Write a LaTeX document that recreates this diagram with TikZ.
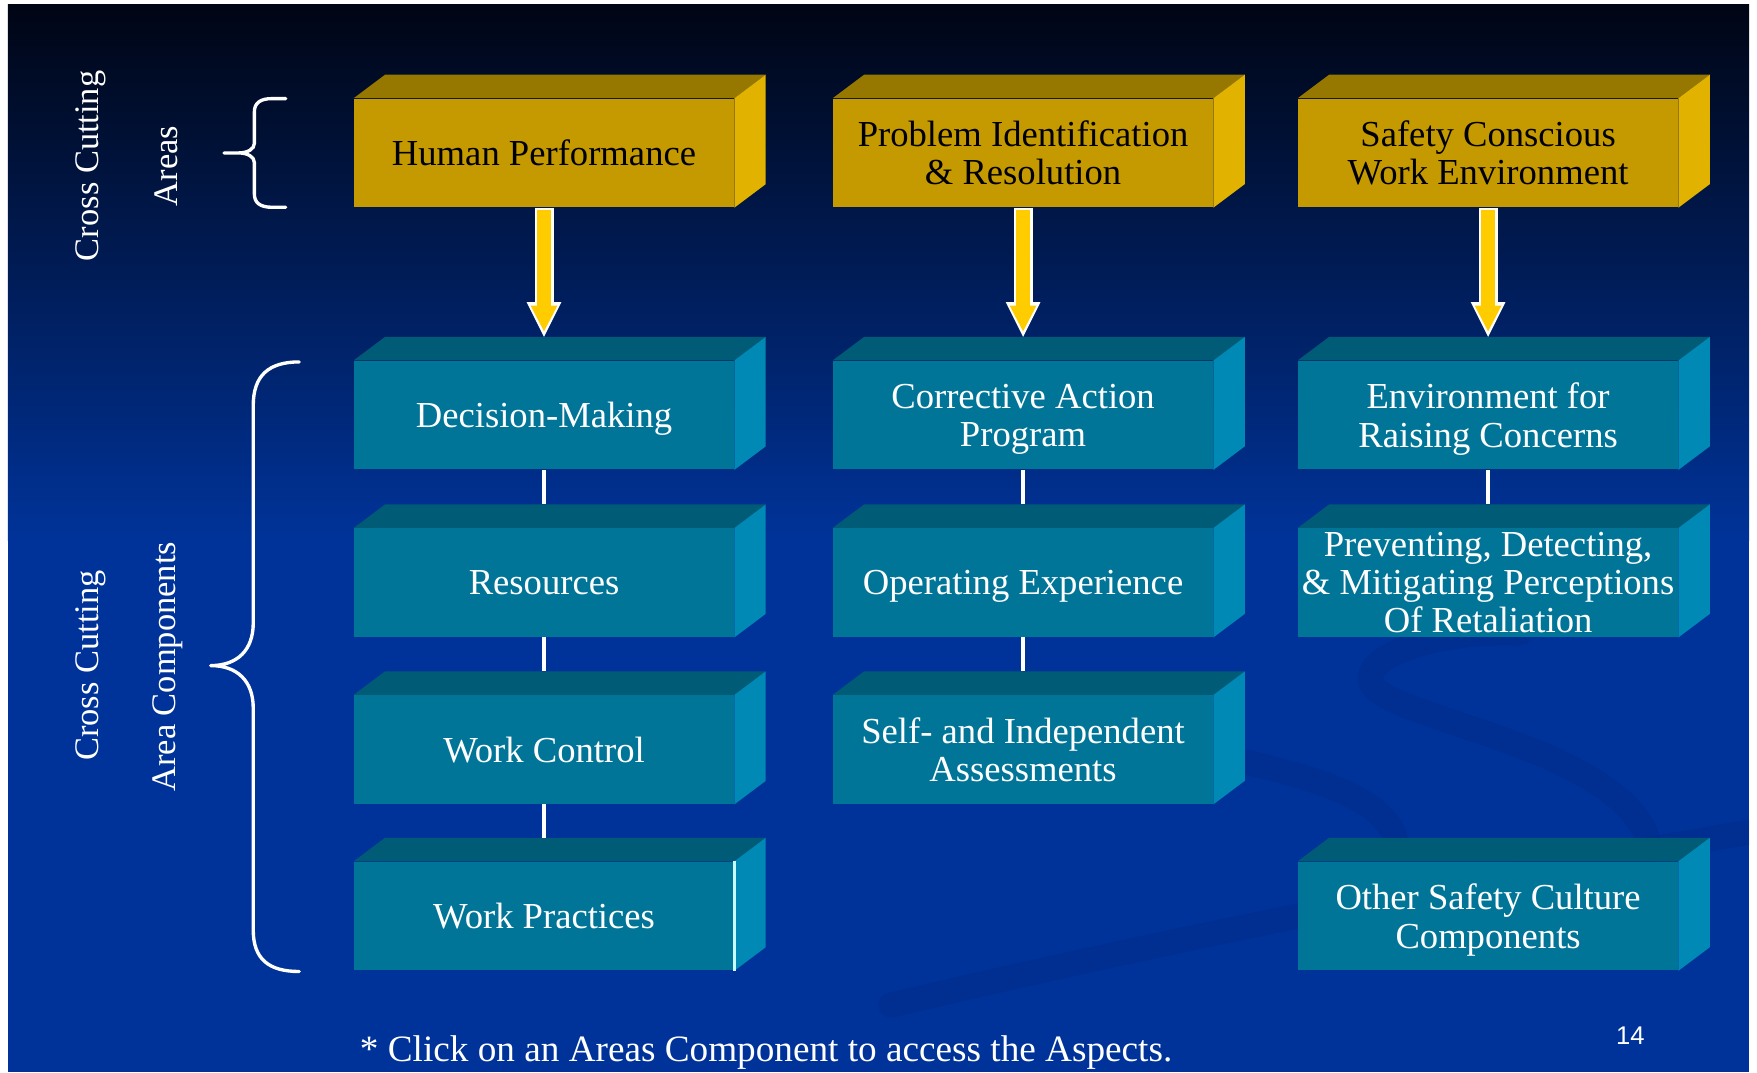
\documentclass[tikz,border=0pt]{standalone}
\usepackage{fontspec}
\setmainfont{Liberation Serif}
\newfontfamily\pagenumfont{Liberation Sans}
\usetikzlibrary{arrows.meta}

\definecolor{slidenavy}{RGB}{0, 5, 20}
\definecolor{slidemid}{RGB}{0, 36, 112}
\definecolor{slideblue}{RGB}{0, 51, 153}
\definecolor{swooshblue}{RGB}{0, 38, 128}
\definecolor{goldfront}{RGB}{196, 154, 0}
\definecolor{goldtop}{RGB}{150, 119, 0}
\definecolor{goldside}{RGB}{226, 178, 0}
\definecolor{tealfront}{RGB}{0, 117, 152}
\definecolor{tealtop}{RGB}{0, 92, 118}
\definecolor{tealside}{RGB}{0, 137, 180}
\definecolor{arrowyellow}{RGB}{255, 204, 0}
\definecolor{pickline}{RGB}{200, 250, 255}

\newcommand\blockfont{\fontsize{18.6}{19.4}\selectfont}
\newcommand\sidefont{\fontsize{17.5}{20}\selectfont}
\newcommand\notefont{\fontsize{18.9}{22}\selectfont}

\tikzset{
    block/.style={rectangle, minimum width=6.78cm, minimum height=1.94cm,
        inner sep=0pt, align=center, text depth=0pt, font=\blockfont},
    areablock/.style={block, fill=goldfront, text=black},
    compblock/.style={block, fill=tealfront, text=white},
    link/.style={white, line width=1.7pt},
    bracket/.style={white, line width=1.7pt, line cap=round},
    sidelabel/.style={white, rotate=90, font=\sidefont},
    arrowrim/.style={white, line width=0.34cm,
        -{Triangle[width=0.62cm, length=0.62cm, line width=0pt]}},
    arrowcore/.style={arrowyellow, line width=0.24cm, shorten >=0.1cm, shorten <=0.05cm,
        -{Triangle[width=0.48cm, length=0.46cm, line width=0pt]}},
    swoosh/.style={swooshblue, line width=0.45cm, opacity=0.3, line cap=round}
}

\begin{document}
\begin{tikzpicture}
    \useasboundingbox (0,0) rectangle (31.36,19.14);

    % slide background
    \fill[white] (0,0) rectangle (31.36,19.14);
    \shade[top color=slidenavy, middle color=slidemid, bottom color=slideblue]
        (0.14,9.5) rectangle (31.22,19.06);
    \fill[slideblue] (0.14,0) rectangle (31.22,9.5);
    \begin{scope}
        \clip (0.14,0) rectangle (31.22,19.06);
        \draw[swoosh] (27.12,7.84) .. controls (25.6,7.9) and (24.2,7.4) .. (24.5,6.9)
            .. controls (24.9,6.3) and (28.8,5.8) .. (29.4,4.2);
        \draw[swoosh] (22.0,5.6) .. controls (23.2,5.3) and (24.6,5.0) .. (24.9,4.2);
        \draw[swoosh] (15.9,1.2) .. controls (21,2.4) and (26,3.4) .. (31.3,4.3);
    \end{scope}

    % Cross cutting areas
    \node[areablock] (hp)   at (9.71,16.41)  {Human Performance};
    \node[areablock] (pir)  at (18.26,16.41) {Problem Identification\\\& Resolution};
    \node[areablock] (scwe) at (26.56,16.41) {Safety Conscious\\Work Environment};

    % Area components
    \node[compblock] (dm)  at (9.71,11.73)  {Decision-Making};
    \node[compblock] (res) at (9.71,8.74)   {Resources};
    \node[compblock] (wc)  at (9.71,5.76)   {Work Control};
    \node[compblock] (wp)  at (9.71,2.79)   {Work Practices};
    \node[compblock] (cap) at (18.26,11.73) {Corrective Action\\Program};
    \node[compblock] (oe)  at (18.26,8.74)  {Operating Experience};
    \node[compblock] (sia) at (18.26,5.76)  {Self- and Independent\\Assessments};
    \node[compblock] (erc) at (26.56,11.73) {Environment for\\Raising Concerns};
    \node[compblock] (pdm) at (26.56,8.74)  {Preventing, Detecting,\\\& Mitigating Perceptions\\Of Retaliation};
    \node[compblock] (osc) at (26.56,2.79)  {Other Safety Culture\\Components};

    % top and side faces of the blocks
    \foreach \b in {hp,pir,scwe}{
        \fill[goldtop] (\b.north west) -- ++(0.56,0.42) -- ([shift={(0.56,0.42)}]\b.north east) -- (\b.north east) -- cycle;
        \fill[goldside] (\b.north east) -- ++(0.56,0.42) -- ([shift={(0.56,0.42)}]\b.south east) -- (\b.south east) -- cycle;
    }
    \foreach \b in {dm,res,wc,wp,cap,oe,sia,erc,pdm,osc}{
        \fill[tealtop] (\b.north west) -- ++(0.56,0.42) -- ([shift={(0.56,0.42)}]\b.north east) -- (\b.north east) -- cycle;
        \fill[tealside] (\b.north east) -- ++(0.56,0.42) -- ([shift={(0.56,0.42)}]\b.south east) -- (\b.south east) -- cycle;
    }
    \draw[pickline, line width=1.2pt] (wp.north east) -- (wp.south east);

    % links inside each column
    \draw[link] (dm.south)  -- ([yshift=0.42cm]res.north);
    \draw[link] (res.south) -- ([yshift=0.42cm]wc.north);
    \draw[link] (wc.south)  -- ([yshift=0.42cm]wp.north);
    \draw[link] (cap.south) -- ([yshift=0.42cm]oe.north);
    \draw[link] (oe.south)  -- ([yshift=0.42cm]sia.north);
    \draw[link] (erc.south) -- ([yshift=0.42cm]pdm.north);

    % arrows from areas to components
    \foreach \a/\c in {hp/dm, pir/cap, scwe/erc}{
        \draw[arrowrim]  (\a.south) -- ([yshift=0.42cm]\c.north);
        \draw[arrowcore] (\a.south) -- ([yshift=0.42cm]\c.north);
    }

    % braces
    \draw[bracket] (5.10,17.38) -- (4.86,17.38) .. controls (4.64,17.38) and (4.54,17.30) .. (4.54,17.14)
        -- (4.54,16.58) .. controls (4.54,16.48) and (4.42,16.41) .. (4.26,16.41) -- (4.00,16.41)
        (4.26,16.41) .. controls (4.42,16.41) and (4.54,16.34) .. (4.54,16.24)
        -- (4.54,15.68) .. controls (4.54,15.52) and (4.64,15.44) .. (4.86,15.44) -- (5.10,15.44);
    \draw[bracket] (5.34,12.68) .. controls (4.80,12.68) and (4.52,12.44) .. (4.52,11.90)
        -- (4.52,8.02) .. controls (4.52,7.54) and (4.24,7.26) .. (3.76,7.26)
        (3.76,7.26) .. controls (4.24,7.26) and (4.52,6.98) .. (4.52,6.50)
        -- (4.52,2.54) .. controls (4.52,2.02) and (4.80,1.80) .. (5.34,1.80);

    % side labels
    \node[sidelabel] (ccareas)  at (1.62,16.18) {Cross Cutting};
    \node[sidelabel] (areas)    at (2.96,16.18) {Areas};
    \node[sidelabel] (cccomp)   at (1.62,7.26)  {Cross Cutting};
    \node[sidelabel] (areacomp) at (3.00,7.24)  {Area Components};

    % footnote and page number
    \node[font=\notefont, white, anchor=base west] (note) at (6.30,0.20)
        {* Click on an Areas Component to access the Aspects.};
    \node[font=\pagenumfont\fontsize{13}{15}\selectfont, white] (pagenum) at (29.10,0.66) {14};
\end{tikzpicture}
\end{document}
